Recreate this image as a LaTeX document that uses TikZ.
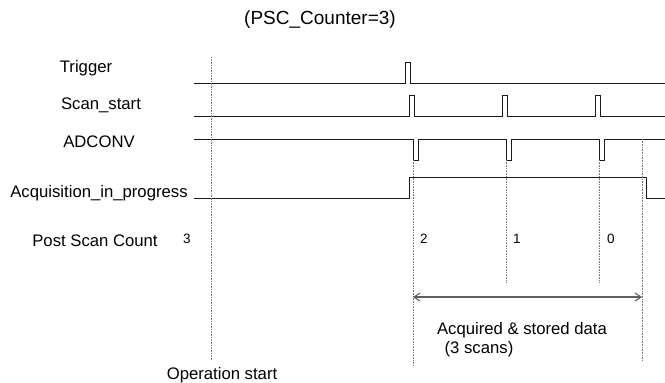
\documentclass[tikz,border=0pt]{standalone}
\usepackage{fontspec}
\setmainfont{Liberation Sans}
\usetikzlibrary{arrows.meta,positioning}
\definecolor{sigInk}{HTML}{1A1A1A}
\definecolor{sigGuide}{HTML}{7A7A7A}
\tikzset{
  siglabel/.style={font=\fontsize{16.7}{18}\selectfont, text=black, inner sep=0pt, anchor=base},
  sigtitle/.style={font=\fontsize{19}{21}\selectfont, text=black, inner sep=0pt, anchor=base},
  sigcount/.style={font=\fontsize{13.5}{15}\selectfont, text=black, inner sep=0pt, anchor=base},
  sigwave/.style={draw=sigInk, line width=0.9pt},
  sigguide/.style={draw=sigGuide, densely dotted, line width=0.6pt},
  sigarrow/.style={{Straight Barb[length=6pt,width=8pt]}-{Straight Barb[length=6pt,width=8pt]}, draw=sigInk!70, line width=1.1pt}
}

\begin{document}
\begin{tikzpicture}[x=1pt,y=-1pt]
\useasboundingbox (0,0) rectangle (665,383);

\node[sigtitle] (title) at (320,24) {(PSC\_Counter=3)};

% signal names
\node[siglabel] (trig)  at (86,72)  {Trigger};
\node[siglabel] (scan)  at (101,109) {Scan\_start};
\node[siglabel] (adc)   at (99,147) {ADCONV};
\node[siglabel] (acq)   at (99,197) {Acquisition\_in\_progress};
\node[siglabel] (post)  at (95,246) {Post Scan Count};

% waveforms
\draw[sigwave] (194,83) -- (405,83) -- (405,62) -- (410,62) -- (410,83) -- (665,83);
\draw[sigwave] (194,116) \foreach \x in {409,502,595} {
  -- (\x,116) -- (\x,95) -- ({\x+5},95) -- ({\x+5},116)} -- (665,116);
\draw[sigwave] (194,139) \foreach \x in {413,506,599} {
  -- (\x,139) -- (\x,160) -- ({\x+5},160) -- ({\x+5},139)} -- (665,139);
\draw[sigwave] (194,198) -- (409,198) -- (409,177) -- (646,177) -- (646,198) -- (665,198);

% guides
\coordinate (opTop) at (211,57);
\coordinate (opBot) at (211,360);
\coordinate (accL) at (413,297);
\coordinate (accR) at (642,297);
\draw[sigguide] (opTop) -- (opBot);
\draw[sigguide] (413,160) -- (413,365);
\foreach \x in {506,599}
  \draw[sigguide] (\x,160) -- (\x,283);
\draw[sigguide] (642,139) -- (642,360);

% post scan counter values
\node[sigcount] (c3) at (187,243) {3};
\node[sigcount] (c2) at (424,243) {2};
\node[sigcount] (c1) at (517,243) {1};
\node[sigcount] (c0) at (611,243) {0};

\draw[sigarrow] (accL) -- (accR);
\node[siglabel] (stored) at (522,334) {Acquired \& stored data};
\node[siglabel] (scans) at (479,353) {(3 scans)};
\node[siglabel] (opstart) at (222,379) {Operation start};

\end{tikzpicture}
\end{document}
